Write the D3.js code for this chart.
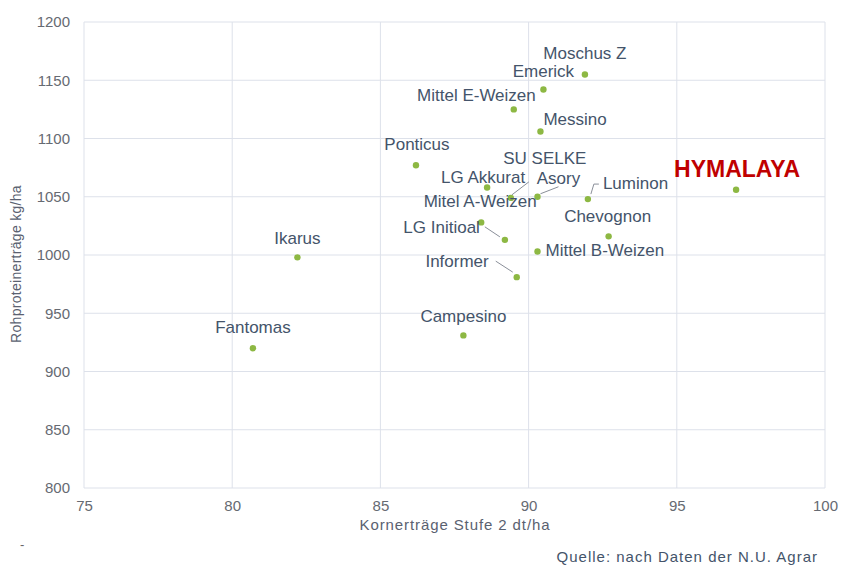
<!DOCTYPE html>
<html>
<head>
<meta charset="utf-8">
<script src="https://cdn.jsdelivr.net/npm/d3@7"></script>
<style>
  body { margin: 0; background: #fff; }
  svg { font-family: Arial, "Liberation Sans", sans-serif; }
</style>
</head>
<body>
<div id="chart"></div>
<script>
// Sorten, Kornertrag (dt/ha) und Rohproteinertrag (kg/ha)
const sorten = ['Moschus Z', 'Emerick', 'Mittel E-Weizen', 'Messino', 'Ponticus', 'SU SELKE',
    'LG Akkurat', 'Asory', 'Luminon', 'Mitel A-Weizen', 'LG Initioal', 'Chevognon',
    'Mittel B-Weizen', 'Informer', 'Ikarus', 'Fantomas', 'Campesino', 'HYMALAYA'];
const kornertrag = [91.9, 90.5, 89.5, 90.4, 86.2, 89.4, 88.6, 90.3, 92.0, 88.4, 89.2, 92.7,
    90.3, 89.6, 82.2, 80.7, 87.8, 97.0];
const rohprotein = [1155, 1142, 1125, 1106, 1077, 1049, 1058, 1050, 1048, 1028, 1013, 1016,
    1003, 981, 998, 920, 931, 1056];
const xTicks = [75, 80, 85, 90, 95, 100];
const yTicks = [800, 850, 900, 950, 1000, 1050, 1100, 1150, 1200];
const highlight = 'HYMALAYA';

// label placement (pixel offsets from the point), same order as sorten
const labelPos = [
    { dx: 0, dy: -15, anchor: 'middle' },
    { dx: 0, dy: -13, anchor: 'middle' },
    { dx: 22, dy: -8, anchor: 'end' },
    { dx: 3, dy: -7, anchor: 'start' },
    { dx: 1, dy: -15, anchor: 'middle' },
    { dx: 34, dy: -34, anchor: 'middle', leader: [[1, -3], [18, -16]] },
    { dx: -4, dy: -4, anchor: 'middle' },
    { dx: 21, dy: -13, anchor: 'middle', leader: [[3, -3], [21, -10]] },
    { dx: 15, dy: -10, anchor: 'start', leader: [[3, -5], [6, -15], [11, -15]] },
    { dx: -1, dy: -15, anchor: 'middle' },
    { dx: -25, dy: -7, anchor: 'end', leader: [[-20, -13], [-5, -3]] },
    { dx: -1, dy: -14, anchor: 'middle' },
    { dx: 8, dy: 4, anchor: 'start' },
    { dx: -28, dy: -10, anchor: 'end', leader: [[-21, -16], [-4, -5]] },
    { dx: 0, dy: -13, anchor: 'middle' },
    { dx: 0, dy: -15, anchor: 'middle' },
    { dx: 0, dy: -13, anchor: 'middle' },
    { dx: 1, dy: -13, anchor: 'middle' }
];

const width = 841, height = 565;
const margin = { top: 22, right: 16, bottom: 77, left: 84 };

const svg = d3.select('#chart').append('svg')
    .attr('width', width)
    .attr('height', height);

const x = d3.scaleLinear().domain([75, 100]).range([margin.left, width - margin.right]);
const y = d3.scaleLinear().domain([800, 1200]).range([height - margin.bottom, margin.top]);

// gridlines
svg.append('g')
    .selectAll('line.v')
    .data(xTicks)
    .enter().append('line')
    .attr('x1', d => x(d)).attr('x2', d => x(d))
    .attr('y1', y(800)).attr('y2', y(1200))
    .attr('stroke', '#dde1ea')
    .attr('stroke-width', 1);

svg.append('g')
    .selectAll('line.h')
    .data(yTicks)
    .enter().append('line')
    .attr('x1', x(75)).attr('x2', x(100))
    .attr('y1', d => y(d)).attr('y2', d => y(d))
    .attr('stroke', '#dde1ea')
    .attr('stroke-width', 1);

// axes (labels only)
const xAxis = svg.append('g')
    .attr('transform', 'translate(0,' + y(800) + ')')
    .call(d3.axisBottom(x).tickValues(xTicks).tickFormat(d3.format('d')).tickSize(0).tickPadding(12));
const yAxis = svg.append('g')
    .attr('transform', 'translate(' + x(75) + ',0)')
    .call(d3.axisLeft(y).tickValues(yTicks).tickFormat(d3.format('d')).tickSize(0).tickPadding(14));
[xAxis, yAxis].forEach(g => {
    g.select('.domain').remove();
    g.selectAll('text')
        .style('font-size', '15px')
        .style('font-family', 'Arial, "Liberation Sans", sans-serif')
        .attr('fill', '#666a72');
});

// axis titles
svg.append('text')
    .attr('x', 455).attr('y', 530)
    .attr('text-anchor', 'middle')
    .style('font-size', '15px')
    .style('letter-spacing', '0.9px')
    .attr('fill', '#5a6170')
    .text('Kornerträge Stufe 2 dt/ha');

svg.append('text')
    .attr('transform', 'translate(21,264)rotate(-90)')
    .attr('text-anchor', 'middle')
    .style('font-size', '14px')
    .style('letter-spacing', '0.3px')
    .attr('fill', '#5a6170')
    .text('Rohproteinerträge kg/ha');

svg.append('text')
    .attr('x', 818).attr('y', 562)
    .attr('text-anchor', 'end')
    .style('font-size', '15px')
    .style('letter-spacing', '1px')
    .attr('fill', '#44546a')
    .text('Quelle:  nach Daten der N.U. Agrar');

svg.append('text')
    .attr('x', 20).attr('y', 549)
    .style('font-size', '13px')
    .attr('fill', '#666')
    .text('-');

const points = sorten.map((name, i) => ({
    name: name, x: kornertrag[i], y: rohprotein[i], pos: labelPos[i]
}));

// leader lines
svg.append('g')
    .selectAll('polyline')
    .data(points.filter(d => d.pos.leader))
    .enter().append('polyline')
    .attr('points', d => d.pos.leader.map(p => [x(d.x) + p[0], y(d.y) + p[1]].join(',')).join(' '))
    .attr('fill', 'none')
    .attr('stroke', '#8a8f99')
    .attr('stroke-width', 1);

// points
svg.append('g')
    .selectAll('circle')
    .data(points)
    .enter().append('circle')
    .attr('cx', d => x(d.x))
    .attr('cy', d => y(d.y))
    .attr('r', 3.2)
    .attr('fill', '#8db843');

// labels
svg.append('g')
    .selectAll('text')
    .data(points)
    .enter().append('text')
    .attr('x', d => x(d.x) + d.pos.dx)
    .attr('y', d => y(d.y) + d.pos.dy)
    .attr('text-anchor', d => d.pos.anchor)
    .style('font-size', d => d.name === highlight ? '23px' : '17px')
    .style('font-weight', d => d.name === highlight ? 'bold' : 'normal')
    .attr('fill', d => d.name === highlight ? '#c00000' : '#44546a')
    .text(d => d.name);
</script>
</body>
</html>
